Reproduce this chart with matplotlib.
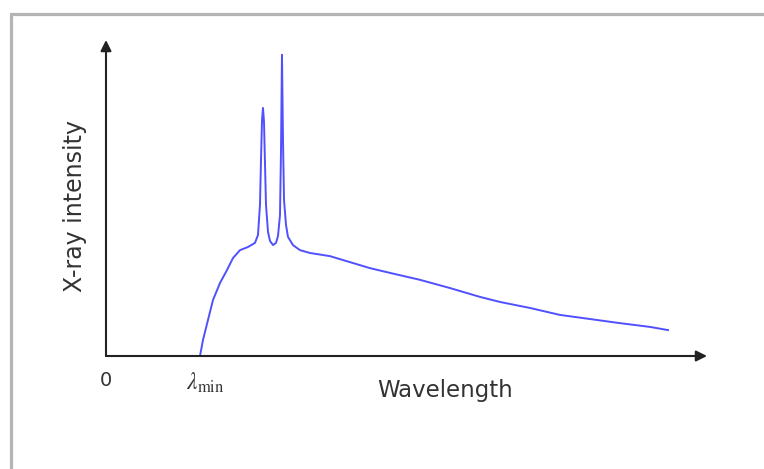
import matplotlib
matplotlib.use('Agg')
import matplotlib.pyplot as plt
from matplotlib.patches import Rectangle

plt.rcParams['font.family'] = 'DejaVu Sans'
plt.rcParams['mathtext.fontset'] = 'stix'

# Spectrum (arbitrary units, axes run 0..10 both ways)
wavelength = [1.564, 1.614, 1.697, 1.780, 1.897, 2.013, 2.113, 2.230, 2.363, 2.479,
              2.529, 2.562, 2.579, 2.596, 2.612, 2.629, 2.646, 2.662, 2.696, 2.729,
              2.779, 2.829, 2.862, 2.895, 2.912, 2.928, 2.945, 2.962, 2.995, 3.028,
              3.111, 3.228, 3.394, 3.727, 4.060, 4.393, 4.725, 5.225, 5.724, 6.223,
              6.556, 7.055, 7.554, 8.053, 8.552, 9.052, 9.351]
intensity = [0.00, 0.51, 1.14, 1.77, 2.31, 2.72, 3.10, 3.35, 3.45, 3.58,
             3.83, 4.78, 6.20, 7.47, 7.85, 7.41, 6.04, 4.78, 3.92, 3.64,
             3.51, 3.58, 3.80, 4.46, 6.52, 9.53, 6.84, 4.94, 4.15, 3.77,
             3.51, 3.35, 3.26, 3.16, 2.97, 2.78, 2.63, 2.41, 2.15, 1.87,
             1.71, 1.52, 1.30, 1.17, 1.04, 0.92, 0.82]
lambda_min = 1.564

W, H = 764, 469
fig = plt.figure(figsize=(W / 100, H / 100), dpi=100)
fig.patch.set_facecolor('white')

# grey frame, cut off on the right and bottom
fig.patches.append(Rectangle((10.5 / W, -0.1), 1.2, 1 - 14.5 / H + 0.1,
                             transform=fig.transFigure, fill=False,
                             edgecolor='#b4b4b4', lw=2.3))

ax = fig.add_axes([106 / W, (H - 356) / H, (707 - 106) / W, (356 - 40) / H])
ax.plot(wavelength, intensity, color='#5050ff', lw=1.4, solid_joinstyle='round')
ax.set_xlim(0, 10)
ax.set_ylim(0, 10)
for s in ax.spines.values():
    s.set_visible(False)
ax.set_xticks([])
ax.set_yticks([])

axis_kw = dict(arrowstyle='-|>', color='#222222', lw=1.5, mutation_scale=16,
               shrinkA=0, shrinkB=0)
ax.annotate('', xy=(1, 0), xytext=(0, 0), xycoords='axes fraction', arrowprops=axis_kw)
ax.annotate('', xy=(0, 1), xytext=(0, 0), xycoords='axes fraction', arrowprops=axis_kw)

txt = '#333333'
fig.text(75 / W, 1 - 206 / H, 'X-ray intensity', rotation=90, ha='center', va='center',
         fontsize=17, color=txt)
fig.text(445 / W, 1 - 390 / H, 'Wavelength', ha='center', va='center',
         fontsize=16.5, color=txt)
ax.text(0, -0.79, '0', ha='center', va='center', fontsize=14, color=txt, clip_on=False)
ax.text(lambda_min + 0.08, -0.85, r'$\lambda_{\mathrm{min}}$', ha='center', va='center',
        fontsize=17, color=txt, clip_on=False)

fig.savefig('out.png', dpi=100)
